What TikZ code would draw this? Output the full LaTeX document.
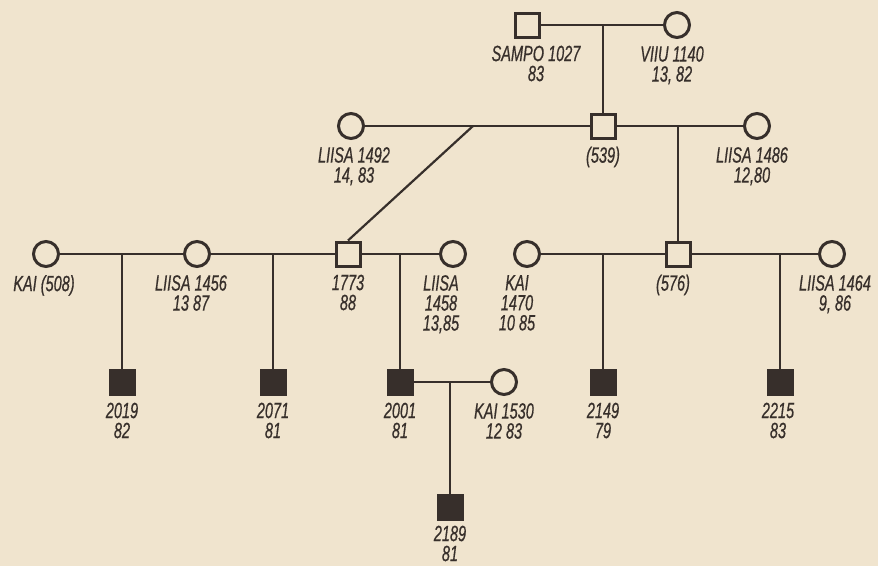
\documentclass[tikz,border=0pt]{standalone}
\usepackage{fontspec}
\newfontfamily\pedfont[FakeStretch=0.66, FakeBold=0.6]{Liberation Sans}
\usetikzlibrary{positioning}
\definecolor{paper}{RGB}{240,228,206}
\definecolor{ink}{RGB}{55,47,43}

\begin{document}
\begin{tikzpicture}[
    x=1pt, y=-1pt,
    node distance=7pt,
    male/.style={rectangle, draw=ink, line width=3pt, minimum size=24pt, inner sep=0pt},
    affected/.style={male, fill=ink},
    female/.style={circle, draw=ink, line width=3pt, minimum size=25pt, inner sep=0pt},
    tag/.style={font=\pedfont\itshape\fontsize{22pt}{20pt}\selectfont, text=ink, align=center, inner sep=0pt},
    link/.style={draw=ink, line width=2.2pt}
]
    \fill[paper] (0,0) rectangle (878,566);
    \useasboundingbox (0,0) rectangle (878,566);

    % Generation I
    \node[male] (sampo) at (527,25) {};
    \node[female] (viiu) at (677,25) {};

    % Generation II
    \node[female] (liisaA) at (351,126) {};
    \node[male] (p539) at (603,126) {};
    \node[female] (liisaB) at (757,126) {};

    % Generation III
    \node[female] (kai508) at (46,254) {};
    \node[female] (liisaC) at (197,254) {};
    \node[male] (p1773) at (348,254) {};
    \node[female] (liisaD) at (453,254) {};
    \node[female] (kai1470) at (527,254) {};
    \node[male] (p576) at (678,254) {};
    \node[female] (liisaE) at (832,254) {};

    % Generation IV
    \node[affected] (c2019) at (122,382) {};
    \node[affected] (c2071) at (273,382) {};
    \node[affected] (c2001) at (400,382) {};
    \node[female] (kai1530) at (504,382) {};
    \node[affected] (c2149) at (603,382) {};
    \node[affected] (c2215) at (780,382) {};

    % Generation V
    \node[affected] (c2189) at (450,507) {};

    % Marriages
    \draw[link] (sampo) -- (viiu);
    \draw[link] (liisaA) -- (p539);
    \draw[link] (p539) -- (liisaB);
    \draw[link] (kai508) -- (liisaC);
    \draw[link] (liisaC) -- (p1773);
    \draw[link] (p1773) -- (liisaD);
    \draw[link] (kai1470) -- (p576);
    \draw[link] (p576) -- (liisaE);
    \draw[link] (c2001) -- (kai1530);

    % Descent
    \coordinate (m1773) at (473,126);
    \draw[link] (p539.north |- sampo) -- (p539.north);
    \draw[link] (p576.north |- p539) -- (p576.north);
    \draw[link] (m1773) -- (p1773.north);
    \draw[link] (c2019.north |- kai508) -- (c2019.north);
    \draw[link] (c2071.north |- liisaC) -- (c2071.north);
    \draw[link] (c2001.north |- p1773) -- (c2001.north);
    \draw[link] (c2149.north |- kai1470) -- (c2149.north);
    \draw[link] (c2215.north |- p576) -- (c2215.north);
    \draw[link] (c2189.north |- c2001) -- (c2189.north);

    % Labels
    \node[tag, below=of sampo, xshift=9pt] {SAMPO 1027\\83};
    \node[tag, below=of viiu, xshift=-5pt] {VIIU 1140\\13, 82};
    \node[tag, below=of liisaA, xshift=3pt] {LIISA 1492\\14, 83};
    \node[tag, below=of p539] {(539)};
    \node[tag, below=of liisaB, xshift=-5pt] {LIISA 1486\\12,80};
    \node[tag, below=of kai508, xshift=-2pt] {KAI (508)};
    \node[tag, below=of liisaC, xshift=-6pt] {LIISA 1456\\13 87};
    \node[tag, below=of p1773] {1773\\88};
    \node[tag, below=of liisaD, xshift=-12pt] {LIISA\\1458\\13,85};
    \node[tag, below=of kai1470, xshift=-10pt] {KAI\\1470\\10 85};
    \node[tag, below=of p576, xshift=-5pt] {(576)};
    \node[tag, below=of liisaE, xshift=3pt] {LIISA 1464\\9, 86};
    \node[tag, below=of c2019] {2019\\82};
    \node[tag, below=of c2071] {2071\\81};
    \node[tag, below=of c2001] {2001\\81};
    \node[tag, below=of kai1530] {KAI 1530\\12 83};
    \node[tag, below=of c2149] {2149\\79};
    \node[tag, below=of c2215, xshift=-2pt] {2215\\83};
    \node[tag, below=5pt of c2189] {2189\\81};
\end{tikzpicture}
\end{document}
